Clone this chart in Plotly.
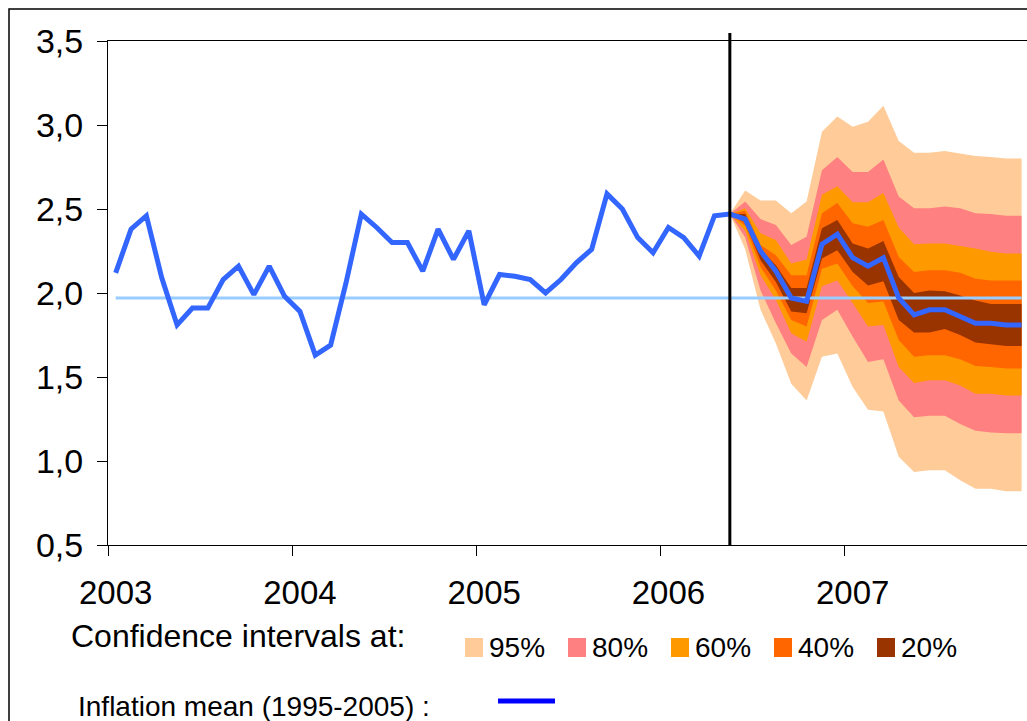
import plotly.graph_objects as go

# ---------------- data ----------------
years = ["2003", "2004", "2005", "2006", "2007"]
# monthly inflation, Jan 2003 .. May 2006 (observed)
hist_values = [2.12, 2.38, 2.46, 2.09, 1.81, 1.91, 1.91, 2.08, 2.16, 1.99, 2.16, 1.98,
               1.89, 1.63, 1.69, 2.06, 2.47, 2.39, 2.30, 2.30, 2.13, 2.38, 2.20, 2.37,
               1.93, 2.11, 2.10, 2.08, 2.00, 2.08, 2.18, 2.26, 2.59, 2.50, 2.33, 2.24,
               2.39, 2.33, 2.22, 2.46, 2.47]
# central forecast, Jun 2006 .. Dec 2007
fc_values = [2.44, 2.25, 2.13, 1.97, 1.95, 2.29, 2.35, 2.21, 2.16, 2.21,
             1.97, 1.87, 1.90, 1.90, 1.86, 1.82, 1.82, 1.81, 1.81]
# fan bounds, May 2006 .. Dec 2007
up95 = [2.47, 2.61, 2.55, 2.55, 2.475, 2.545, 2.96, 3.05, 2.99, 3.02, 3.115, 2.905, 2.835, 2.835, 2.845, 2.83, 2.815, 2.81, 2.80, 2.80]
up80 = [2.47, 2.545, 2.44, 2.405, 2.285, 2.335, 2.73, 2.81, 2.72, 2.72, 2.795, 2.575, 2.505, 2.505, 2.515, 2.505, 2.475, 2.47, 2.46, 2.46]
up60 = [2.47, 2.505, 2.355, 2.315, 2.175, 2.20, 2.585, 2.635, 2.54, 2.54, 2.595, 2.39, 2.29, 2.295, 2.295, 2.28, 2.265, 2.245, 2.235, 2.235]
up40 = [2.47, 2.49, 2.285, 2.225, 2.105, 2.105, 2.475, 2.535, 2.415, 2.395, 2.435, 2.215, 2.125, 2.135, 2.135, 2.12, 2.085, 2.075, 2.075, 2.075]
up20 = [2.47, 2.47, 2.26, 2.165, 2.03, 2.03, 2.385, 2.435, 2.295, 2.265, 2.31, 2.095, 2.00, 2.015, 2.01, 1.985, 1.955, 1.935, 1.935, 1.935]
lo20 = [2.47, 2.42, 2.195, 2.065, 1.89, 1.88, 2.205, 2.255, 2.125, 2.045, 2.07, 1.84, 1.765, 1.765, 1.785, 1.75, 1.705, 1.695, 1.685, 1.685]
lo40 = [2.47, 2.40, 2.155, 2.015, 1.84, 1.80, 2.145, 2.175, 2.04, 1.94, 1.95, 1.72, 1.62, 1.63, 1.63, 1.605, 1.565, 1.56, 1.55, 1.55]
lo60 = [2.47, 2.37, 2.105, 1.96, 1.76, 1.71, 2.04, 2.075, 1.94, 1.80, 1.81, 1.56, 1.465, 1.48, 1.48, 1.45, 1.40, 1.40, 1.39, 1.39]
lo80 = [2.47, 2.33, 2.015, 1.82, 1.64, 1.56, 1.84, 1.90, 1.74, 1.59, 1.605, 1.36, 1.26, 1.27, 1.27, 1.22, 1.18, 1.17, 1.165, 1.165]
lo95 = [2.47, 2.26, 1.90, 1.70, 1.46, 1.36, 1.62, 1.64, 1.44, 1.305, 1.295, 1.025, 0.935, 0.945, 0.945, 0.885, 0.835, 0.835, 0.82, 0.82]
mean_1995_2005 = 1.97

band_labels = ["95%", "80%", "60%", "40%", "20%"]
band_colors = ["#FFCC99", "#FF8080", "#FF9900", "#FF6600", "#993300"]

# ---------------- derived positions ----------------
n_total = len(hist_values) + len(fc_values)          # 60 months
x_all = [i + 0.5 for i in range(n_total)]            # month centres
start_fc = len(hist_values) - 1                      # index of last observation
x_fc = x_all[start_fc:]
all_values = hist_values + fc_values

# layout geometry (pixels in a 1027x721 page)
W, H = 1027, 721
L, T, B = 108, 41, 545
PW, PH = W - L, B - T
month_px = 15.354
x_max = PW / month_px

def xp(px):
    return (px - L) / PW

def yp(py):
    return (B - py) / PH

fig = go.Figure()

bands = [(up95, lo95), (up80, lo80), (up60, lo60), (up40, lo40), (up20, lo20)]
for (up, lo), lab, col in zip(bands, band_labels, band_colors):
    fig.add_trace(go.Scatter(
        x=x_fc + x_fc[::-1], y=up + lo[::-1],
        fill="toself", fillcolor=col, mode="lines",
        line=dict(width=0, color=col), name=lab, hoverinfo="skip",
        showlegend=False))

fig.add_trace(go.Scatter(
    x=x_all, y=[mean_1995_2005] * n_total, mode="lines",
    line=dict(color="#99CCFF", width=3), xaxis="x2",
    name="Inflation mean (1995-2005)", showlegend=False))

fig.add_trace(go.Scatter(
    x=x_all, y=all_values, mode="lines",
    line=dict(color="#3366FF", width=5), xaxis="x2",
    name="Inflation", showlegend=False))

font_family = "Liberation Sans, Arial, sans-serif"

fig.update_layout(
    width=W, height=H,
    margin=dict(l=L, r=0, t=T, b=H - B, pad=0),
    paper_bgcolor="white", plot_bgcolor="white",
    separators=", ",
    font=dict(family=font_family, color="black"),
    showlegend=False,
    xaxis=dict(
        range=[0, x_max], showgrid=False, zeroline=False,
        tickvals=[12 * k for k in range(len(years) + 1)],
        showticklabels=False, ticks="outside", ticklen=10, tickcolor="black",
        showline=True, linecolor="black", linewidth=1, mirror=True),
    xaxis2=dict(
        range=[0, x_max], overlaying="x", side="bottom", anchor="y",
        showgrid=False, zeroline=False, showline=False,
        tickvals=[12 * k + 0.5 for k in range(len(years))], ticktext=years,
        ticks="", ticklabelstandoff=25,
        tickfont=dict(size=33, family=font_family, color="black")),
    yaxis=dict(
        range=[0.5, 3.5], dtick=0.5, tick0=0.5, tickformat=".1f",
        showgrid=False, zeroline=False,
        ticks="outside", ticklen=10, tickcolor="black",
        showline=True, linecolor="black", linewidth=1, mirror=False,
        ticklabelstandoff=7,
        tickfont=dict(size=34, family=font_family, color="black")),
)

# vertical separator at last observation
fig.add_shape(type="line", xref="x", yref="paper",
              x0=x_all[start_fc], x1=x_all[start_fc], y0=0, y1=yp(33),
              line=dict(color="black", width=3), layer="above")

# outer chart border
fig.add_shape(type="rect", xref="paper", yref="paper",
              x0=xp(9), x1=xp(W + 20), y0=yp(H + 40), y1=yp(9),
              line=dict(color="black", width=1.5), fillcolor="rgba(0,0,0,0)")

# custom legend
fig.add_annotation(xref="paper", yref="paper", x=xp(69), y=yp(636),
                   xanchor="left", yanchor="middle", showarrow=False,
                   text="Confidence intervals at:",
                   font=dict(size=32, family=font_family, color="black"))
sq_left = [465, 568, 671, 774, 877]
for lab, col, sx in zip(band_labels, band_colors, sq_left):
    fig.add_shape(type="rect", xref="paper", yref="paper",
                  x0=xp(sx), x1=xp(sx + 18), y0=yp(657), y1=yp(638),
                  fillcolor=col, line=dict(width=0))
    fig.add_annotation(xref="paper", yref="paper", x=xp(sx + 22), y=yp(647),
                       xanchor="left", yanchor="middle", showarrow=False,
                       text=lab, font=dict(size=28, family=font_family, color="black"))

fig.add_annotation(xref="paper", yref="paper", x=xp(76), y=yp(706),
                   xanchor="left", yanchor="middle", showarrow=False,
                   text="Inflation mean (1995-2005) :",
                   font=dict(size=28, family=font_family, color="black"))
fig.add_shape(type="line", xref="paper", yref="paper",
              x0=xp(498), x1=xp(555), y0=yp(701), y1=yp(701),
              line=dict(color="#0000FF", width=5))

fig.write_html("out.html",
               config={"displayModeBar": False},
               post_script="document.body.style.margin='0';document.body.style.overflow='hidden';")
